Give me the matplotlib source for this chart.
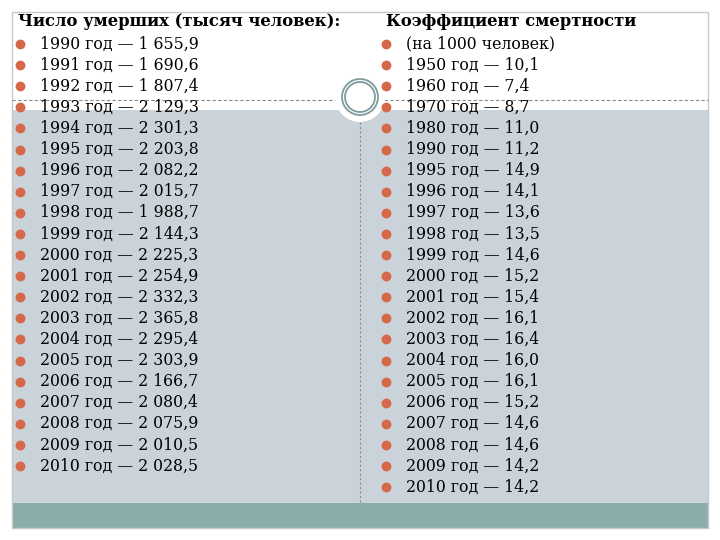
import matplotlib
matplotlib.use("Agg")
import matplotlib.pyplot as plt
from matplotlib.patches import Rectangle, Circle

left_title = "Число умерших (тысяч человек):"
left_years = [1990, 1991, 1992, 1993, 1994, 1995, 1996, 1997, 1998, 1999, 2000,
              2001, 2002, 2003, 2004, 2005, 2006, 2007, 2008, 2009, 2010]
left_values = ["1 655,9", "1 690,6", "1 807,4", "2 129,3", "2 301,3", "2 203,8",
               "2 082,2", "2 015,7", "1 988,7", "2 144,3", "2 225,3", "2 254,9",
               "2 332,3", "2 365,8", "2 295,4", "2 303,9", "2 166,7", "2 080,4",
               "2 075,9", "2 010,5", "2 028,5"]

right_title = "Коэффициент смертности"
right_sub = "(на 1000 человек)"
right_years = [1950, 1960, 1970, 1980, 1990, 1995, 1996, 1997, 1998, 1999, 2000,
               2001, 2002, 2003, 2004, 2005, 2006, 2007, 2008, 2009, 2010]
right_values = ["10,1", "7,4", "8,7", "11,0", "11,2", "14,9", "14,1", "13,6",
                "13,5", "14,6", "15,2", "15,4", "16,1", "16,4", "16,0", "16,1",
                "15,2", "14,6", "14,6", "14,2", "14,2"]

BULLET = "#d6684a"
GRAY = "#c9d3d9"
TEAL = "#8aadac"
FONT = "DejaVu Serif"

fig = plt.figure(figsize=(7.2, 5.4), dpi=100)
ax = fig.add_axes([0, 0, 1, 1])
ax.set_xlim(0, 720)
ax.set_ylim(540, 0)
ax.axis("off")

# background panels
ax.add_patch(Rectangle((12, 110), 696, 393, facecolor=GRAY, edgecolor="none", zorder=0))
ax.add_patch(Rectangle((12, 503), 696, 25, facecolor=TEAL, edgecolor="none", zorder=0))
ax.add_patch(Rectangle((12, 12), 696, 516, facecolor="none", edgecolor="#c8c8c8", lw=1.0, zorder=1))

# dashed separator and dotted vertical line
ax.plot([12, 708], [100, 100], color="#8a8a8a", lw=0.8, ls=(0, (3, 2)), zorder=1)
ax.plot([360, 360], [122, 503], color="#8a8a8a", lw=0.8, ls=(0, (2, 2)), zorder=1)

# decorative circle
ax.add_patch(Circle((360, 97), 25, facecolor="white", edgecolor="none", zorder=2))
ax.add_patch(Circle((360, 97), 18, facecolor="white", edgecolor="#7d9c9b", lw=1.3, zorder=3))
ax.add_patch(Circle((360, 97), 15, facecolor="white", edgecolor="#7d9c9b", lw=1.3, zorder=3))

FS = 11.3
TFS = 11.8
step = 21.1

# left column
ax.text(18, 22, left_title, fontsize=TFS, fontweight="bold", family=FONT,
        va="center", ha="left", zorder=4)
for i, (y, v) in enumerate(zip(left_years, left_values)):
    yy = 44 + i * step
    ax.scatter([20], [yy], s=50, color=BULLET, zorder=4, linewidths=0)
    ax.text(40, yy, f"{y} год — {v}", fontsize=FS, family=FONT,
            va="center", ha="left", zorder=4)

# right column
ax.text(386, 22, right_title, fontsize=TFS, fontweight="bold", family=FONT,
        va="center", ha="left", zorder=4)
ax.scatter([386], [44], s=50, color=BULLET, zorder=4, linewidths=0)
ax.text(406, 44, right_sub, fontsize=FS, family=FONT, va="center", ha="left", zorder=4)
for i, (y, v) in enumerate(zip(right_years, right_values)):
    yy = 44 + (i + 1) * step
    ax.scatter([386], [yy], s=50, color=BULLET, zorder=4, linewidths=0)
    ax.text(406, yy, f"{y} год — {v}", fontsize=FS, family=FONT,
            va="center", ha="left", zorder=4)

fig.savefig("out.png", dpi=100)
